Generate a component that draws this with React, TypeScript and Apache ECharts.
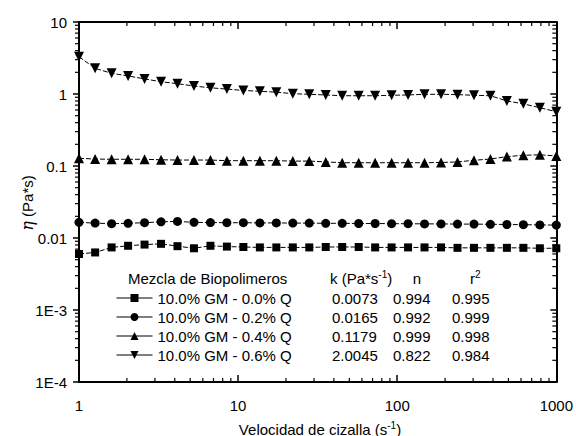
import React, { useEffect, useRef } from "react";
import * as echarts from "echarts";

// Shear rate (s^-1), logarithmic sweep
const SHEAR_RATE = [
  1, 1.263, 1.603, 2.035, 2.582, 3.278, 4.159, 5.279, 6.7, 8.5,
  10.79, 13.7, 17.39, 22.07, 28.01, 35.54, 45.11, 57.27, 72.67, 92.2,
  117.0, 148.5, 188.6, 239.3, 303.7, 385.4, 489.0, 620.9, 788.0, 1000,
];

// Apparent viscosity (Pa*s) for each blend
const ETA_Q00 = [
  0.006, 0.0063, 0.0074, 0.0078, 0.0081, 0.0083, 0.0077, 0.0072, 0.0078, 0.0076,
  0.0075, 0.0074, 0.0074, 0.0074, 0.0074, 0.0075, 0.0075, 0.0075, 0.0074, 0.0074,
  0.0074, 0.0074, 0.0074, 0.0073, 0.0073, 0.0073, 0.0073, 0.0073, 0.0072, 0.0072,
];
const ETA_Q02 = [
  0.0165, 0.0161, 0.0158, 0.016, 0.0163, 0.0168, 0.017, 0.0165, 0.0164, 0.0163,
  0.0163, 0.0162, 0.0162, 0.0161, 0.0161, 0.016, 0.016, 0.0159, 0.0159, 0.0158,
  0.0158, 0.0157, 0.0157, 0.0156, 0.0156, 0.0155, 0.0154, 0.0153, 0.0152, 0.0151,
];
const ETA_Q04 = [
  0.128, 0.125, 0.124, 0.124, 0.124, 0.122, 0.121, 0.121, 0.121, 0.1185,
  0.1185, 0.1185, 0.1185, 0.117, 0.117, 0.114, 0.111, 0.111, 0.111, 0.111,
  0.111, 0.111, 0.112, 0.114, 0.12, 0.125, 0.135, 0.141, 0.143, 0.138,
];
const ETA_Q06 = [
  3.3, 2.27, 1.94, 1.78, 1.62, 1.48, 1.39, 1.29, 1.22, 1.17,
  1.12, 1.09, 1.06, 1.01, 0.99, 0.97, 0.946, 0.946, 0.946, 0.96,
  0.97, 0.99, 0.99, 0.98, 0.96, 0.946, 0.8, 0.73, 0.645, 0.567,
];

const SERIES_NAMES = [
  "10.0% GM - 0.0% Q",
  "10.0% GM - 0.2% Q",
  "10.0% GM - 0.4% Q",
  "10.0% GM - 0.6% Q",
];

// Power-law fit parameters
const K_VALUES = ["0.0073", "0.0165", "0.1179", "2.0045"];
const N_VALUES = ["0.994", "0.992", "0.999", "0.822"];
const R2_VALUES = ["0.995", "0.999", "0.998", "0.984"];

const X_TICK_LABELS = ["1", "10", "100", "1000"];
const Y_TICK_LABELS = ["1E-4", "1E-3", "0.01", "0.1", "1", "10"];

const X_MIN = 1;
const X_MAX = 1000;
const Y_MIN = 1e-4;
const Y_MAX = 10;

const FONT = "'Liberation Sans', Arial, Helvetica, sans-serif";

function minorTicks(lo: number, hi: number): number[] {
  const out: number[] = [];
  for (let d = lo; d < hi; d *= 10) {
    for (let m = 2; m <= 9; m++) out.push(+(d * m).toPrecision(6));
  }
  return out;
}

const X_MINOR = minorTicks(X_MIN, X_MAX);
const Y_MINOR = minorTicks(Y_MIN, Y_MAX);

const SUP_RICH = {
  b: { fontSize: 15, fontFamily: FONT, lineHeight: 17, fill: "#000" },
  sup: { fontSize: 10, fontFamily: FONT, lineHeight: 10, verticalAlign: "top", fill: "#000" },
};

export default function App() {
  const ref = useRef<HTMLDivElement>(null);

  useEffect(() => {
    if (!ref.current) return;
    const chart = echarts.init(ref.current, null, { renderer: "svg" });

    const lineSeries = (name: string, data: number[], symbol: string, size: number, rotate = 0) => ({
      name,
      type: "line",
      data: SHEAR_RATE.map((x, i) => [x, data[i]]),
      symbol,
      symbolSize: size,
      symbolRotate: rotate,
      showSymbol: true,
      color: "#000",
      itemStyle: { color: "#000" },
      lineStyle: { color: "#000", width: 1, type: [5, 2] },
      z: 3,
    });

    const black = { color: "#000" };

    const option: any = {
      animation: false,
      backgroundColor: "#fff",
      textStyle: { fontFamily: FONT },
      grid: { left: 79, right: 14, top: 22, bottom: 54 },
      xAxis: [
        {
          type: "log",
          logBase: 10,
          min: X_MIN,
          max: X_MAX,
          splitNumber: 3,
          position: "bottom",
          axisLine: { show: true, onZero: false, lineStyle: { ...black, width: 2 } },
          axisTick: { show: true, inside: true, length: 7, lineStyle: { ...black, width: 1.5 } },
          axisLabel: {
            margin: 16,
            fontSize: 15,
            color: "#000",
            fontFamily: FONT,
            formatter: (v: number) => X_TICK_LABELS[Math.round(Math.log10(v))],
          },
          splitLine: { show: false },
          minorTick: { show: false },
        },
        {
          type: "log",
          logBase: 10,
          min: X_MIN,
          max: X_MAX,
          splitNumber: 3,
          position: "top",
          axisLine: { show: true, onZero: false, lineStyle: { ...black, width: 2 } },
          axisTick: { show: true, inside: true, length: 7, lineStyle: { ...black, width: 1.5 } },
          axisLabel: { show: false },
          splitLine: { show: false },
        },
      ],
      yAxis: [
        {
          type: "log",
          logBase: 10,
          min: Y_MIN,
          max: Y_MAX,
          splitNumber: 5,
          position: "left",
          axisLine: { show: true, onZero: false, lineStyle: { ...black, width: 2 } },
          axisTick: { show: true, inside: false, length: 6, lineStyle: { ...black, width: 1.5 } },
          axisLabel: {
            margin: 12,
            fontSize: 15,
            color: "#000",
            fontFamily: FONT,
            formatter: (v: number) => Y_TICK_LABELS[Math.round(Math.log10(v)) + 4],
          },
          splitLine: { show: false },
        },
        {
          type: "log",
          logBase: 10,
          min: Y_MIN,
          max: Y_MAX,
          splitNumber: 5,
          position: "right",
          axisLine: { show: true, onZero: false, lineStyle: { ...black, width: 2 } },
          axisTick: { show: true, inside: true, length: 6, lineStyle: { ...black, width: 1.5 } },
          axisLabel: { show: false },
          splitLine: { show: false },
        },
      ],
      legend: {
        data: SERIES_NAMES,
        orient: "vertical",
        left: 116,
        top: 290.5,
        padding: 0,
        itemWidth: 36,
        itemHeight: 10,
        itemGap: 4,
        textStyle: { fontSize: 15, color: "#000", fontFamily: FONT, lineHeight: 15 },
        lineStyle: { type: "solid", width: 1, color: "#000" },
        itemStyle: { color: "#000" },
        selectedMode: false,
      },
      series: [
        lineSeries(SERIES_NAMES[0], ETA_Q00, "rect", 8),
        lineSeries(SERIES_NAMES[1], ETA_Q02, "circle", 9),
        lineSeries(SERIES_NAMES[2], ETA_Q04, "triangle", 10),
        lineSeries(SERIES_NAMES[3], ETA_Q06, "triangle", 10, 180),
        {
          // minor ticks along the bottom and top frame
          type: "custom",
          silent: true,
          clip: false,
          data: X_MINOR.map((v) => [v, 1]),
          renderItem: (_p: any, api: any) => {
            const v = api.value(0);
            const b = api.coord([v, Y_MIN]);
            const t = api.coord([v, Y_MAX]);
            const st = { stroke: "#000", lineWidth: 1.2 };
            return {
              type: "group",
              children: [
                { type: "line", shape: { x1: b[0], y1: b[1], x2: b[0], y2: b[1] - 4 }, style: st },
                { type: "line", shape: { x1: t[0], y1: t[1], x2: t[0], y2: t[1] + 4 }, style: st },
              ],
            };
          },
          z: 4,
        },
        {
          // minor ticks along the left and right frame
          type: "custom",
          silent: true,
          clip: false,
          data: Y_MINOR.map((v) => [1, v]),
          renderItem: (_p: any, api: any) => {
            const v = api.value(1);
            const l = api.coord([X_MIN, v]);
            const r = api.coord([X_MAX, v]);
            const st = { stroke: "#000", lineWidth: 1.2 };
            return {
              type: "group",
              children: [
                { type: "line", shape: { x1: l[0], y1: l[1], x2: l[0] - 4, y2: l[1] }, style: st },
                { type: "line", shape: { x1: r[0], y1: r[1], x2: r[0] - 4, y2: r[1] }, style: st },
              ],
            };
          },
          z: 4,
        },
      ],
      graphic: [
        {
          type: "text",
          x: 27,
          y: 203,
          rotation: Math.PI / 2,
          style: {
            text: "{eta|η} (Pa*s)",
            font: `15px ${FONT}`,
            fill: "#000",
            align: "center",
            verticalAlign: "middle",
            rich: {
              eta: { fontSize: 16, fontStyle: "italic", fontFamily: "'DejaVu Serif', serif", fill: "#000" },
            },
          },
        },
        {
          type: "text",
          x: 320,
          y: 429,
          style: {
            text: "{b|Velocidad de cizalla (s}{sup|-1}{b|)}",
            fill: "#000",
            align: "center",
            verticalAlign: "middle",
            rich: SUP_RICH,
          },
        },
        {
          type: "text",
          x: 128,
          y: 278,
          style: { text: "Mezcla de Biopolimeros", font: `15px ${FONT}`, fill: "#000", verticalAlign: "middle" },
        },
        {
          type: "text",
          x: 330,
          y: 278,
          style: { text: "{b|k (Pa*s}{sup|-1}{b|)}", fill: "#000", verticalAlign: "middle", rich: SUP_RICH },
        },
        {
          type: "text",
          x: 417,
          y: 278,
          style: { text: "n", font: `15px ${FONT}`, fill: "#000", align: "center", verticalAlign: "middle" },
        },
        {
          type: "text",
          x: 470,
          y: 278,
          style: { text: "{b|r}{sup|2}", fill: "#000", verticalAlign: "middle", rich: SUP_RICH },
        },
        ...K_VALUES.map((k, i) => ({
          type: "text",
          x: 332,
          y: 298 + i * 19,
          style: { text: k, font: `15px ${FONT}`, fill: "#000", verticalAlign: "middle" },
        })),
        ...N_VALUES.map((n, i) => ({
          type: "text",
          x: 393,
          y: 298 + i * 19,
          style: { text: n, font: `15px ${FONT}`, fill: "#000", verticalAlign: "middle" },
        })),
        ...R2_VALUES.map((r, i) => ({
          type: "text",
          x: 452,
          y: 298 + i * 19,
          style: { text: r, font: `15px ${FONT}`, fill: "#000", verticalAlign: "middle" },
        })),
      ],
    };

    chart.setOption(option);
    return () => chart.dispose();
  }, []);

  return (
    <div
      ref={ref}
      style={{ position: "fixed", left: 0, top: 0, width: 576, height: 436, background: "#fff" }}
    />
  );
}
